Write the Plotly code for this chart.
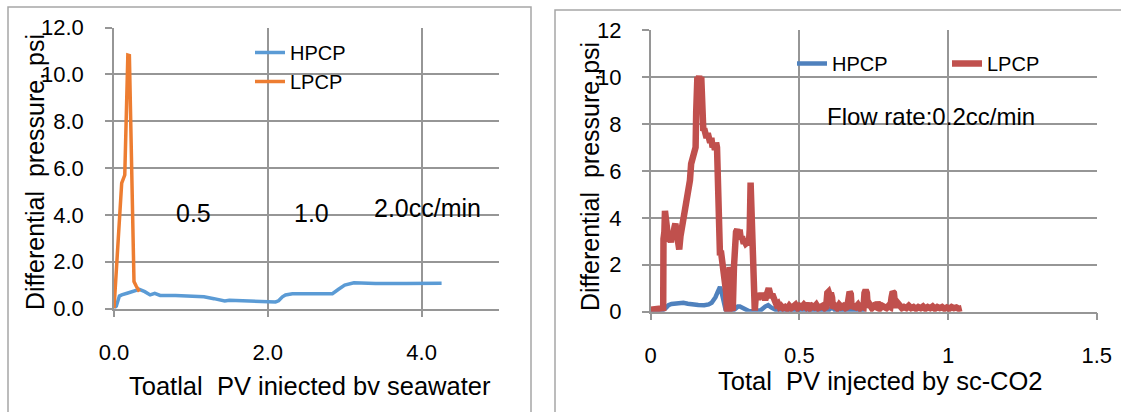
import plotly.graph_objects as go

W, H = 1121, 412

# ---------------- data: left chart (seawater) ----------------
sw_hpcp_x = [0.0, 0.03, 0.07, 0.10, 0.17, 0.25, 0.33, 0.40, 0.47, 0.53, 0.60, 0.80, 1.00, 1.17, 1.30, 1.44, 1.50,
             1.70, 2.00, 2.10, 2.14, 2.19, 2.23, 2.32, 2.50, 2.84, 2.92, 3.00, 3.12, 3.40, 3.80, 4.26]
sw_hpcp_y = [0.0, 0.10, 0.53, 0.58, 0.65, 0.74, 0.82, 0.72, 0.58, 0.65, 0.56, 0.55, 0.53, 0.50, 0.42, 0.32, 0.35,
             0.32, 0.28, 0.28, 0.33, 0.50, 0.58, 0.63, 0.63, 0.63, 0.82, 1.00, 1.10, 1.07, 1.07, 1.08]
sw_lpcp_x = [0.0, 0.05, 0.10, 0.14, 0.18, 0.20, 0.26, 0.29, 0.33]
sw_lpcp_y = [0.0, 2.8, 5.35, 5.7, 10.82, 10.8, 1.15, 0.95, 0.72]

# ---------------- data: right chart (sc-CO2) ----------------
co2_hpcp_x = [0.000, 0.040, 0.050, 0.060, 0.070, 0.080, 0.095, 0.110, 0.125, 0.140, 0.160, 0.180, 0.195, 0.205,
              0.212, 0.218, 0.224, 0.229, 0.233, 0.237, 0.242, 0.247, 0.252, 0.260, 0.275, 0.285, 0.293, 0.300,
              0.308, 0.318, 0.330, 0.350, 0.370, 0.385, 0.395, 0.405, 0.420, 0.440, 0.500, 0.560, 0.600, 0.610,
              0.620, 0.700, 0.720]
co2_hpcp_y = [0.05, 0.06, 0.15, 0.28, 0.33, 0.34, 0.37, 0.38, 0.34, 0.30, 0.29, 0.28, 0.31, 0.38,
              0.48, 0.62, 0.80, 1.00, 1.05, 0.90, 0.55, 0.25, 0.08, 0.02, 0.03, 0.12, 0.22, 0.22,
              0.17, 0.08, 0.03, 0.02, 0.06, 0.22, 0.28, 0.18, 0.08, 0.05, 0.04, 0.05, 0.08, 0.20,
              0.06, 0.05, 0.04]

co2_lpcp_x = [0.000, 0.020, 0.040, 0.042, 0.043, 0.046, 0.048, 0.050, 0.053, 0.056, 0.060, 0.064, 0.068, 0.072,
              0.076, 0.080, 0.083, 0.087, 0.090, 0.093, 0.096, 0.100, 0.104, 0.108, 0.112, 0.116, 0.120, 0.124,
              0.128, 0.132, 0.136, 0.140, 0.144, 0.148, 0.151, 0.153, 0.155, 0.157, 0.160, 0.163, 0.166, 0.168,
              0.170, 0.172, 0.174, 0.177, 0.180, 0.184, 0.188, 0.192, 0.196, 0.200, 0.204, 0.208, 0.212, 0.216,
              0.220, 0.223, 0.225, 0.227, 0.230, 0.233, 0.236, 0.240, 0.243, 0.246, 0.249, 0.252, 0.254, 0.256,
              0.258, 0.262, 0.266, 0.270, 0.273, 0.276, 0.280, 0.283, 0.287, 0.291, 0.295, 0.299, 0.303, 0.307,
              0.311, 0.316, 0.320, 0.325, 0.330, 0.333, 0.336, 0.339, 0.342, 0.345, 0.347, 0.350, 0.353, 0.357,
              0.361, 0.365, 0.369, 0.373, 0.377, 0.381, 0.385, 0.389, 0.393, 0.397, 0.401, 0.405, 0.409, 0.413,
              0.418, 0.423, 0.428, 0.433, 0.438, 0.445, 0.452, 0.459, 0.466, 0.473, 0.480, 0.487, 0.494, 0.501,
              0.508, 0.515, 0.522, 0.529, 0.536, 0.543, 0.550, 0.557, 0.564, 0.571, 0.578, 0.585, 0.590, 0.594,
              0.598, 0.602, 0.606, 0.610, 0.613, 0.620, 0.627, 0.634, 0.641, 0.648, 0.655, 0.661, 0.665, 0.669,
              0.673, 0.676, 0.683, 0.690, 0.697, 0.704, 0.710, 0.716, 0.719, 0.723, 0.727, 0.730, 0.737, 0.744,
              0.751, 0.758, 0.763, 0.768, 0.772, 0.779, 0.786, 0.793, 0.800, 0.806, 0.810, 0.814, 0.818, 0.822,
              0.826, 0.832, 0.838, 0.845, 0.852, 0.860, 0.868, 0.876, 0.884, 0.892, 0.900, 0.908, 0.916, 0.924,
              0.932, 0.940, 0.948, 0.956, 0.964, 0.972, 0.980, 0.988, 0.996, 1.004, 1.012, 1.020, 1.028, 1.036,
              1.046]
co2_lpcp_y = [0.08, 0.10, 0.12, 0.15, 3.10, 3.40, 4.30, 4.10, 3.30, 3.50, 3.00, 3.20, 2.95, 3.40,
              3.30, 3.60, 3.75, 3.40, 3.20, 2.80, 2.65, 3.20, 3.50, 3.70, 3.90, 4.20, 4.60, 5.10,
              5.50, 5.60, 6.30, 6.50, 6.70, 6.90, 7.00, 8.50, 9.60, 10.00, 9.80, 10.05, 9.50, 9.90,
              10.00, 9.20, 8.00, 7.70, 7.80, 7.50, 7.40, 7.60, 7.30, 7.20, 7.40, 7.00, 7.10, 6.90,
              7.20, 7.00, 5.00, 3.00, 2.70, 2.40, 2.60, 2.20, 2.30, 1.90, 1.50, 1.30, 0.80, 0.10,
              0.05, 0.70, 1.90, 1.60, 0.10, 0.05, 1.90, 3.00, 3.40, 3.50, 3.30, 3.50, 3.10, 3.20,
              3.00, 3.00, 2.90, 2.95, 2.85, 3.50, 5.50, 4.00, 2.70, 1.50, 0.10, 0.05, 0.60, 0.80,
              0.50, 0.75, 0.55, 0.80, 0.60, 0.65, 0.50, 0.70, 0.90, 1.00, 0.80, 0.60, 0.75, 0.50,
              0.45, 0.30, 0.35, 0.20, 0.25, 0.15, 0.20, 0.12, 0.25, 0.15, 0.20, 0.30, 0.15, 0.25,
              0.20, 0.30, 0.20, 0.35, 0.15, 0.25, 0.20, 0.30, 0.15, 0.20, 0.25, 0.15, 0.20, 0.80,
              0.85, 0.70, 0.80, 0.60, 0.15, 0.25, 0.15, 0.30, 0.20, 0.25, 0.15, 0.20, 0.75, 0.85,
              0.75, 0.15, 0.25, 0.20, 0.30, 0.15, 0.25, 0.20, 0.80, 0.92, 0.80, 0.20, 0.30, 0.15,
              0.25, 0.20, 0.40, 0.30, 0.15, 0.25, 0.20, 0.15, 0.25, 0.20, 0.60, 0.85, 0.80, 0.30,
              0.20, 0.35, 0.20, 0.15, 0.20, 0.15, 0.25, 0.15, 0.20, 0.12, 0.20, 0.15, 0.22, 0.12,
              0.20, 0.15, 0.22, 0.12, 0.20, 0.15, 0.20, 0.12, 0.18, 0.12, 0.20, 0.15, 0.18, 0.12,
              0.15]

left_yticks = [0, 2, 4, 6, 8, 10, 12]
left_xticks = [0, 2, 4]
right_yticks = [0, 2, 4, 6, 8, 10, 12]
right_xticks = [0, 0.5, 1, 1.5]


def px(x):
    return x / W


def py(y):
    return 1 - y / H


FONT = "Liberation Sans"
GRID = "#969696"

fig = go.Figure()

fig.add_trace(go.Scatter(x=sw_hpcp_x, y=sw_hpcp_y, mode="lines", name="HPCP",
                         line=dict(color="#5B9BD5", width=3.5), xaxis="x", yaxis="y", legend="legend"))
fig.add_trace(go.Scatter(x=sw_lpcp_x, y=sw_lpcp_y, mode="lines", name="LPCP",
                         line=dict(color="#ED7D31", width=3.5), xaxis="x", yaxis="y", legend="legend"))
fig.add_trace(go.Scatter(x=co2_hpcp_x, y=co2_hpcp_y, mode="lines", name="HPCP",
                         line=dict(color="#4F81BD", width=4.5), xaxis="x2", yaxis="y2", legend="legend2"))
fig.add_trace(go.Scatter(x=co2_lpcp_x, y=co2_lpcp_y, mode="lines", name="LPCP",
                         line=dict(color="#C0504D", width=6.5), xaxis="x2", yaxis="y2", legend="legend2"))

axis_common = dict(showgrid=True, gridcolor=GRID, gridwidth=1.5, zeroline=False,
                   showline=True, linecolor=GRID, linewidth=1.5,
                   ticks="outside", ticklen=7, tickcolor=GRID, tickwidth=1.5,
                   tickfont=dict(family=FONT, size=22, color="black"), fixedrange=True,
                   automargin=False)

fig.update_layout(
    width=W, height=H,
    margin=dict(l=0, r=0, t=0, b=0, autoexpand=False),
    paper_bgcolor="white", plot_bgcolor="white",
    showlegend=True,
    xaxis=dict(domain=[px(114), px(498.5)], range=[0, 5], tickvals=left_xticks, tickformat=".1f",
               anchor="y", ticklabelstandoff=16, **axis_common),
    yaxis=dict(domain=[py(308.5), py(27.5)], range=[0, 12], tickvals=left_yticks, tickformat=".1f",
               anchor="x", ticklabelstandoff=17, **axis_common),
    xaxis2=dict(domain=[px(650.7), px(1096.7)], range=[0, 1.5], tickvals=right_xticks,
                anchor="y2", ticklabelstandoff=16, **axis_common),
    yaxis2=dict(domain=[py(311.7), py(30)], range=[0, 12], tickvals=right_yticks,
                anchor="x2", ticklabelstandoff=16, **axis_common),
    legend=dict(x=px(250), y=py(33), xanchor="left", yanchor="top", orientation="v",
                bgcolor="rgba(0,0,0,0)", font=dict(family=FONT, size=20, color="black"),
                tracegroupgap=0),
    legend2=dict(x=px(792), y=py(44), xanchor="left", yanchor="top", orientation="h",
                 entrywidth=110, entrywidthmode="pixels",
                 bgcolor="rgba(0,0,0,0)", font=dict(family=FONT, size=20, color="black")),
)

ann = []
tf = dict(family=FONT, color="black")
ann.append(dict(text="0.5", x=px(193), y=py(213), xref="paper", yref="paper", showarrow=False,
                font=dict(size=25, **tf), xanchor="center", yanchor="middle"))
ann.append(dict(text="1.0", x=px(311), y=py(213), xref="paper", yref="paper", showarrow=False,
                font=dict(size=25, **tf), xanchor="center", yanchor="middle"))
ann.append(dict(text="2.0cc/min", x=px(427), y=py(208), xref="paper", yref="paper", showarrow=False,
                font=dict(size=25, **tf), xanchor="center", yanchor="middle"))
ann.append(dict(text="Flow rate:0.2cc/min", x=px(931), y=py(116), xref="paper", yref="paper", showarrow=False,
                font=dict(size=24, **tf), xanchor="center", yanchor="middle"))
ann.append(dict(text="Toatlal  PV iniected bv seawater", x=px(310), y=py(386), xref="paper", yref="paper",
                showarrow=False, font=dict(size=25.5, **tf), xanchor="center", yanchor="middle"))
ann.append(dict(text="Total  PV injected by sc-CO2", x=px(880), y=py(381), xref="paper", yref="paper",
                showarrow=False, font=dict(size=25.5, **tf), xanchor="center", yanchor="middle"))
ann.append(dict(text="Differential  pressure, psi", x=px(35), y=py(172), xref="paper", yref="paper",
                showarrow=False, textangle=-90, font=dict(size=25, **tf), xanchor="center", yanchor="middle"))
ann.append(dict(text="Differential  pressure,psi", x=px(590), y=py(177), xref="paper", yref="paper",
                showarrow=False, textangle=-90, font=dict(size=25, **tf), xanchor="center", yanchor="middle"))
fig.update_layout(annotations=ann)

# outer chart-area borders
BORDER = "#a6a6a6"
fig.add_shape(type="rect", xref="paper", yref="paper", x0=px(8), x1=px(531), y0=py(430), y1=py(7),
              line=dict(color=BORDER, width=1.5), fillcolor="rgba(0,0,0,0)", layer="below")
fig.add_shape(type="rect", xref="paper", yref="paper", x0=px(555), x1=px(1140), y0=py(430), y1=py(10),
              line=dict(color=BORDER, width=1.5), fillcolor="rgba(0,0,0,0)", layer="below")

fig.write_html("out.html", config={"displayModeBar": False},
               post_script="document.body.style.margin='0';document.body.style.overflow='hidden';")
